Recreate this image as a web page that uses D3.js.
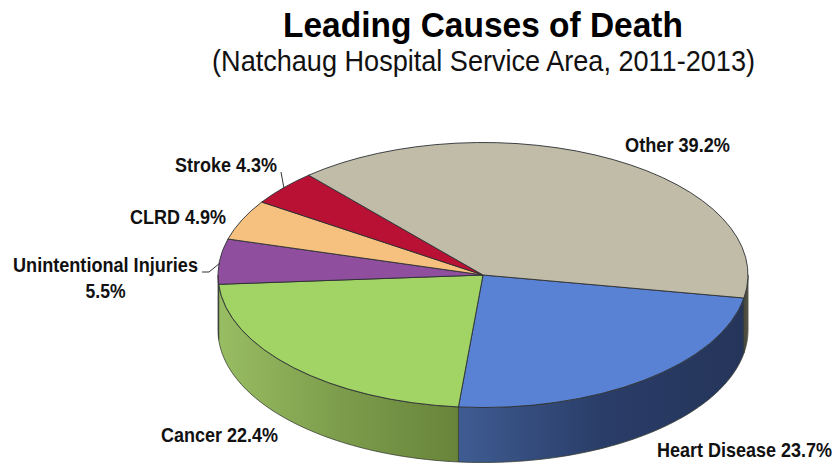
<!DOCTYPE html>
<html><head><meta charset="utf-8">
<script src="https://cdn.jsdelivr.net/npm/d3@7"></script>
<style>html,body{margin:0;padding:0;background:#fff}svg{display:block}</style>
</head><body><div id="c"></div>
<script>
const categories=["Heart Disease","Cancer","Unintentional Injuries","CLRD","Stroke","Other"];
const values=[23.7,22.4,5.5,4.9,4.3,39.2];
const topColors=["#5982d4","#a2d465","#8f4f9e","#f6c07e","#b81134","#c1bca8"];
const sideStops=[["#3f5c92","#2a3d68","#25355a"],["#98bd62","#7d9d4c","#68843a"],["#6a3a76","#6a3a76","#6a3a76"],["#b58d5c","#b58d5c","#b58d5c"],["#860c26","#860c26","#860c26"],["#5a5848","#45443a","#6f6c5c"]];
const labels=[["Heart Disease 23.7%"],["Cancer 22.4%"],["Unintentional Injuries","5.5%"],["CLRD 4.9%"],["Stroke 4.3%"],["Other 39.2%"]];
const labelPos=[[744.5,457],[219.5,442],[105.5,272],[178,224],[226,172],[677.5,152]];
const labelLen=[[175],[117],[185,40],[96],[102],[105]];
const leaders=[[[281,172],[284,188.5]],[[202,272],[209,272],[220,263]]];

const W=835,H=463,cx=483,cy=275,rx=265,ry=132.5,depth=55;
const svg=d3.select("#c").append("svg").attr("width",W).attr("height",H);
const defs=svg.append("defs");
const start=100*Math.PI/180;
const arcs=d3.pie().sort(null).startAngle(start).endAngle(start+2*Math.PI)(values);
const px=a=>cx+rx*Math.sin(a), py=a=>cy-ry*Math.cos(a);
const lineGen=d3.line();

// side walls: only the front half of the ellipse (pie angles pi/2 .. 3pi/2, +2pi wrap)
const ranges=[[Math.PI/2,3*Math.PI/2],[Math.PI/2+2*Math.PI,3*Math.PI/2+2*Math.PI]];
const sides=[];
arcs.forEach((d,i)=>ranges.forEach(r=>{
  const a0=Math.max(d.startAngle,r[0]),a1=Math.min(d.endAngle,r[1]);
  if(a1>a0)sides.push({i,a0,a1});
}));
sides.forEach((s,k)=>{
  const x0=Math.min(px(s.a0),px(s.a1)),x1=Math.max(px(s.a0),px(s.a1));
  const g=defs.append("linearGradient").attr("id","g"+k).attr("gradientUnits","userSpaceOnUse")
    .attr("x1",x0).attr("x2",x1).attr("y1",0).attr("y2",0);
  const st=sideStops[s.i];
  g.selectAll("stop").data(st).join("stop").attr("offset",(d,j)=>j/(st.length-1)).attr("stop-color",d=>d);
  const n=60,pts=d3.range(n+1).map(j=>s.a0+(s.a1-s.a0)*j/n);
  const top=pts.map(a=>[px(a),py(a)]),bot=pts.slice().reverse().map(a=>[px(a),py(a)+depth]);
  svg.append("path").attr("d",lineGen(top.concat(bot))+"Z").attr("fill",`url(#g${k})`)
    .attr("stroke","#3a3f33").attr("stroke-width",0.8).attr("stroke-linejoin","round");
});

// top face: d3.arc in a circle, squashed to the ellipse
const arc=d3.arc().innerRadius(0).outerRadius(rx);
svg.append("g").attr("transform",`translate(${cx},${cy}) scale(1,${ry/rx})`)
  .selectAll("path").data(arcs).join("path").attr("d",arc)
  .attr("fill",(d,i)=>topColors[i]).attr("stroke","#2b2f33").attr("stroke-width",0.9)
  .attr("vector-effect","non-scaling-stroke").attr("stroke-linejoin","round");

// leader lines
svg.selectAll("path.lead").data(leaders).join("path").attr("class","lead")
  .attr("d",d=>lineGen(d)).attr("fill","none").attr("stroke","#333").attr("stroke-width",1);

// text fitted horizontally to the width measured in the reference
function fitted(parent,str,x,y,len){
  const t=parent.append("text").attr("text-anchor","middle").text(str);
  const sx=len/t.node().getComputedTextLength();
  t.attr("transform",`translate(${x},${y}) scale(${sx},1)`);
  return t;
}
const lab=svg.append("g").attr("font-family","'Liberation Sans',Arial,sans-serif")
  .attr("font-weight","bold").attr("font-size",21).attr("fill","#111");
labels.forEach((l,i)=>l.forEach((t,j)=>fitted(lab,t,labelPos[i][0],labelPos[i][1]+j*26,labelLen[i][j])));

// titles
const tg=svg.append("g").attr("font-family","'Liberation Sans',Arial,sans-serif");
fitted(tg,"Leading Causes of Death",483,37,400).attr("font-weight","bold").attr("font-size",36).attr("fill","#000");
fitted(tg,"(Natchaug Hospital Service Area, 2011-2013)",483.5,71,543).attr("font-size",29).attr("fill","#111");
tg.selectAll("text").each(function(){
  const t=d3.select(this),cur=this.getComputedTextLength();
  const m=t.attr("transform").match(/translate\(([^,]+),([^)]+)\)/);
  const len=this.textContent.startsWith("(")?543:400;
  t.attr("transform",`translate(${m[1]},${m[2]}) scale(${len/cur},1)`);
});
</script></body></html>
